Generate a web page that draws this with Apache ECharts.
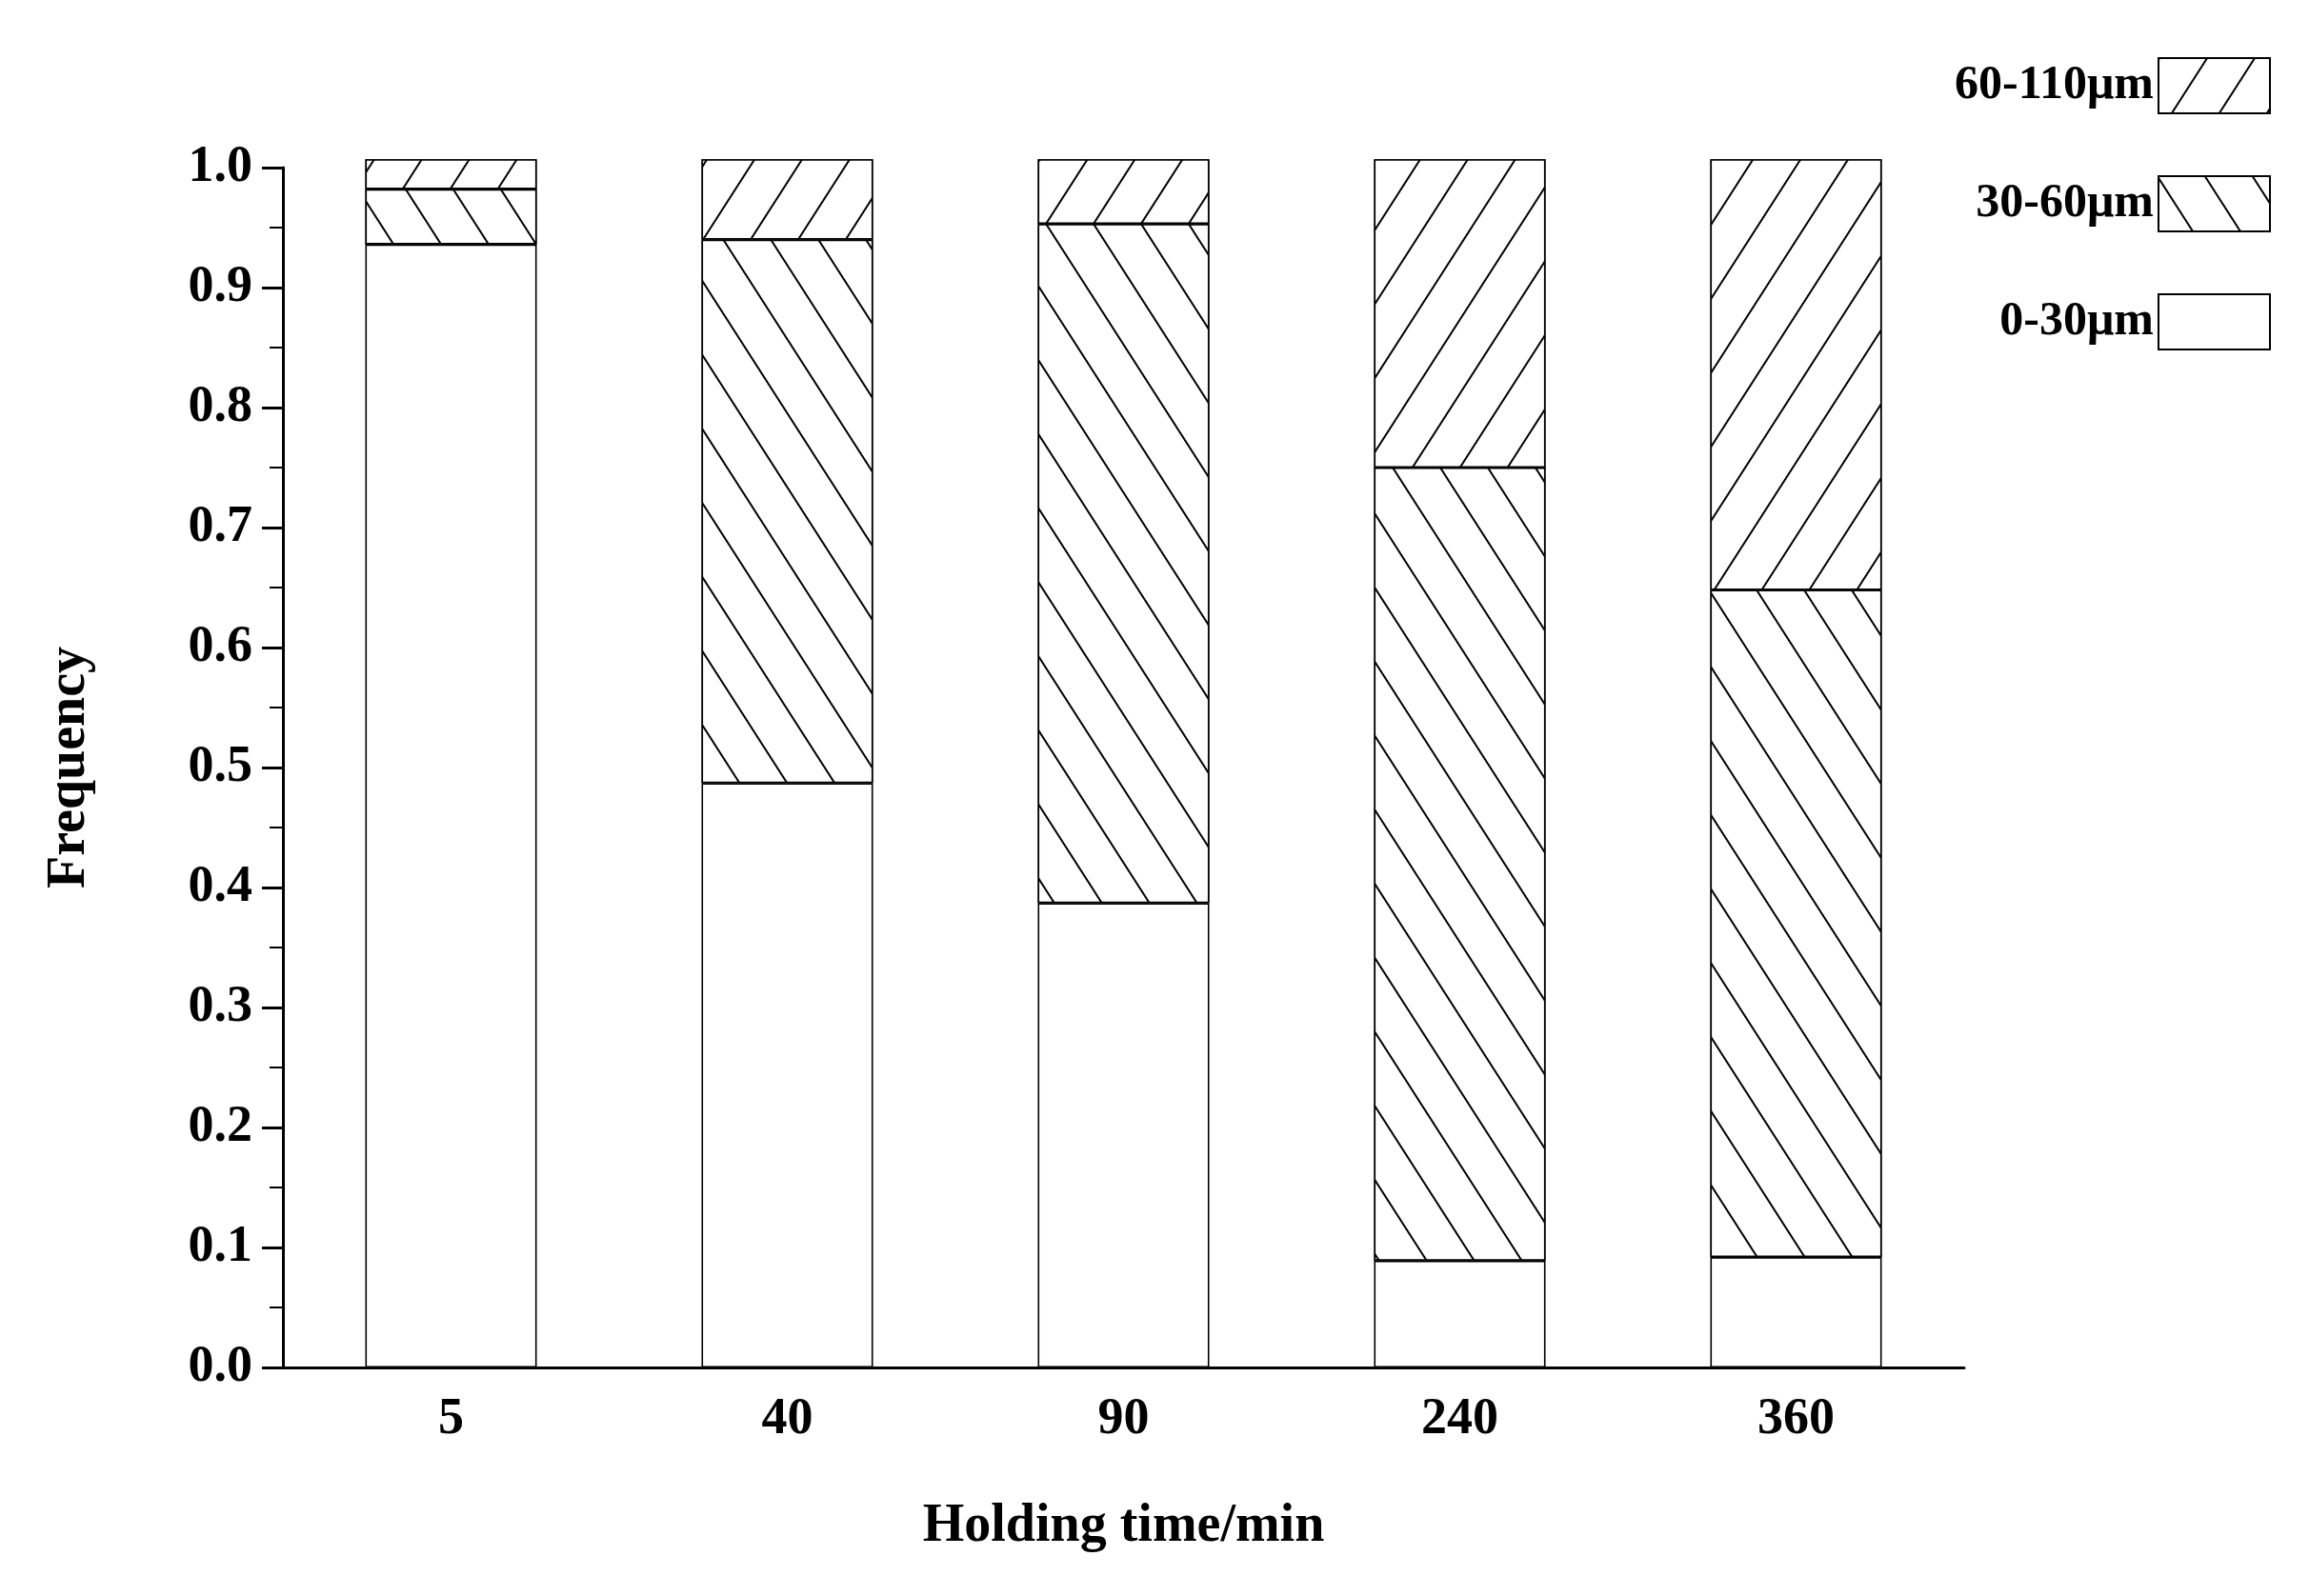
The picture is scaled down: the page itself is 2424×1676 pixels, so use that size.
<!DOCTYPE html><html><head><meta charset="utf-8">
<script src="https://cdn.jsdelivr.net/npm/echarts@6/dist/echarts.min.js"></script>
<style>html,body{margin:0;background:#fff}#c{width:2424px;height:1676px}</style></head><body><div id="c"></div>
<script>
const categories = ['5','40','90','240','360'];
const s0_30 = [0.936,0.487,0.387,0.089,0.092];
const s30_60 = [0.046,0.453,0.566,0.661,0.556];
const s60_110 = [0.025,0.067,0.054,0.257,0.359];
const yTicks = [0,0.1,0.2,0.3,0.4,0.5,0.6,0.7,0.8,0.9,1.0];
const F = 'Liberation Serif';
const chart = echarts.init(document.getElementById('c'));
function hatch(rot){return {symbol:'rect',color:'#000',backgroundColor:'#fff',dashArrayX:[[1,0]],dashArrayY:[2,40],rotation:rot};}
const base = {type:'bar',stack:'a',barWidth:'51%',clip:false,itemStyle:{color:'#fff',borderColor:'#000',borderWidth:1.6}};
chart.setOption({
  animation:false,
  grid:{left:297,right:362,top:176,bottom:240},
  legend:{right:35,top:55,orient:'vertical',align:'right',itemWidth:117,itemHeight:58,itemGap:64,icon:'rect',
    textStyle:{fontFamily:F,fontWeight:'bold',fontSize:50,color:'#000'},
    data:['60-110μm','30-60μm','0-30μm']},
  xAxis:{type:'category',data:categories,axisLine:{lineStyle:{color:'#000',width:3}},axisTick:{show:false},
    axisLabel:{fontFamily:F,fontWeight:'bold',fontSize:54,color:'#000',margin:28},
    name:'Holding time/min',nameLocation:'middle',nameGap:140,nameTextStyle:{fontFamily:F,fontWeight:'bold',fontSize:56,color:'#000'}},
  yAxis:{type:'value',min:0,max:1.0,interval:0.1,splitLine:{show:false},
    axisLine:{show:true,lineStyle:{color:'#000',width:3}},
    axisTick:{show:true,length:22,lineStyle:{color:'#000',width:3}},
    minorTick:{show:true,splitNumber:2,length:14,lineStyle:{color:'#000',width:2}},
    axisLabel:{fontFamily:F,fontWeight:'bold',fontSize:54,color:'#000',margin:32,formatter:v=>v.toFixed(1)},
    name:'Frequency',nameLocation:'middle',nameGap:195,nameTextStyle:{fontFamily:F,fontWeight:'bold',fontSize:56,color:'#000'}},
  series:[
    Object.assign({},base,{name:'0-30μm',data:s0_30}),
    Object.assign({},base,{name:'30-60μm',data:s30_60,itemStyle:Object.assign({},base.itemStyle,{decal:hatch(1.0)})}),
    Object.assign({},base,{name:'60-110μm',data:s60_110,itemStyle:Object.assign({},base.itemStyle,{decal:hatch(-1.0)})})
  ]
});
</script></body></html>
